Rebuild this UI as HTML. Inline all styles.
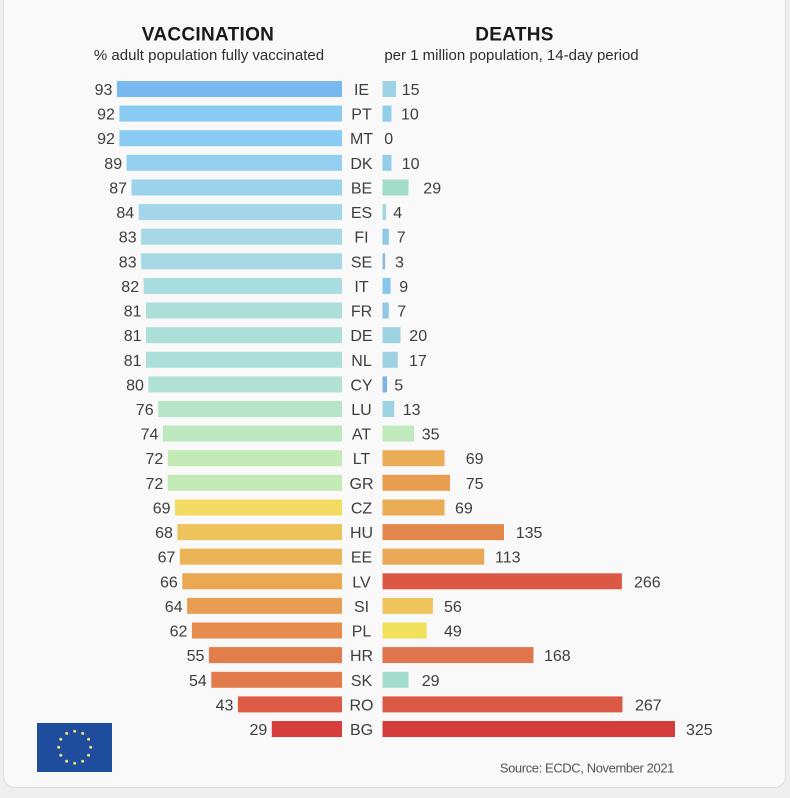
<!DOCTYPE html>
<html><head><meta charset="utf-8"><style>
html,body{margin:0;padding:0;background:#efefef;}
svg{display:block;}
text{font-family:"Liberation Sans",sans-serif;}
.n{font-size:16px;fill:#3e3e3e;}
.v{text-anchor:end;}
.c{text-anchor:middle;}
</style></head><body>
<svg width="790" height="798" viewBox="0 0 790 798" xmlns="http://www.w3.org/2000/svg">
<rect x="0" y="0" width="790" height="798" fill="#efefef"/>
<rect x="3.5" y="-12" width="782" height="799.5" rx="11" fill="#f9f9f9" stroke="#dddddd" stroke-width="1"/>
<text x="208" y="40.5" text-anchor="middle" font-size="19" font-weight="bold" letter-spacing="0.3" fill="#1a1a1a">VACCINATION</text>
<text x="209" y="60" text-anchor="middle" font-size="15" fill="#2e2e2e">% adult population fully vaccinated</text>
<text x="514.5" y="40.5" text-anchor="middle" font-size="19" font-weight="bold" letter-spacing="0.3" fill="#1a1a1a">DEATHS</text>
<text x="511.5" y="60" text-anchor="middle" font-size="15" fill="#2e2e2e">per 1 million population, 14-day period</text>

<g class="n">
<!-- IE -->
<rect x="116.9" y="81" width="225.1" height="16" fill="#79b9ef"/>
<text class="v" x="112.4" y="95">93</text>
<text class="c" x="361.5" y="95">IE</text>
<rect x="382.5" y="81" width="13.5" height="16" fill="#9dd3e5"/>
<text x="401.7" y="95">15</text>
<!-- PT -->
<rect x="119.4" y="105.6" width="222.6" height="16" fill="#8acbf4"/>
<text class="v" x="114.9" y="119.6">92</text>
<text class="c" x="361.5" y="119.6">PT</text>
<rect x="382.5" y="105.6" width="9" height="16" fill="#92cdea"/>
<text x="401" y="119.6">10</text>
<!-- MT -->
<rect x="119.4" y="130.2" width="222.6" height="16" fill="#8acbf4"/>
<text class="v" x="114.9" y="144.2">92</text>
<text class="c" x="361.5" y="144.2">MT</text>
<text x="384.3" y="144.2">0</text>
<!-- DK -->
<rect x="126.6" y="154.8" width="215.4" height="16" fill="#95cfef"/>
<text class="v" x="122.1" y="168.8">89</text>
<text class="c" x="361.5" y="168.8">DK</text>
<rect x="382.5" y="154.8" width="9" height="16" fill="#92cdea"/>
<text x="401.7" y="168.8">10</text>
<!-- BE -->
<rect x="131.5" y="179.5" width="210.5" height="16" fill="#9bd2ec"/>
<text class="v" x="127" y="193.5">87</text>
<text class="c" x="361.5" y="193.5">BE</text>
<rect x="382.5" y="179.5" width="26" height="16" fill="#a4dcca"/>
<text x="423.3" y="193.5">29</text>
<!-- ES -->
<rect x="138.7" y="204.1" width="203.3" height="16" fill="#a2d6e8"/>
<text class="v" x="134.2" y="218.1">84</text>
<text class="c" x="361.5" y="218.1">ES</text>
<rect x="382.5" y="204.1" width="3.6" height="16" fill="#a5d6e4"/>
<text x="393.3" y="218.1">4</text>
<!-- FI -->
<rect x="141.1" y="228.7" width="200.9" height="16" fill="#a6d9e5"/>
<text class="v" x="136.6" y="242.7">83</text>
<text class="c" x="361.5" y="242.7">FI</text>
<rect x="382.5" y="228.7" width="6.3" height="16" fill="#90c8e8"/>
<text x="396.7" y="242.7">7</text>
<!-- SE -->
<rect x="141.1" y="253.3" width="200.9" height="16" fill="#a6d9e5"/>
<text class="v" x="136.6" y="267.3">83</text>
<text class="c" x="361.5" y="267.3">SE</text>
<rect x="382.5" y="253.3" width="2.7" height="16" fill="#8fbada"/>
<text x="395" y="267.3">3</text>
<!-- IT -->
<rect x="143.6" y="277.9" width="198.4" height="16" fill="#a9dce0"/>
<text class="v" x="139.1" y="291.9">82</text>
<text class="c" x="361.5" y="291.9">IT</text>
<rect x="382.5" y="277.9" width="8.1" height="16" fill="#85c6ec"/>
<text x="399.3" y="291.9">9</text>
<!-- FR -->
<rect x="146" y="302.5" width="196" height="16" fill="#acdfda"/>
<text class="v" x="141.5" y="316.5">81</text>
<text class="c" x="361.5" y="316.5">FR</text>
<rect x="382.5" y="302.5" width="6.3" height="16" fill="#90c8e8"/>
<text x="397.3" y="316.5">7</text>
<!-- DE -->
<rect x="146" y="327.2" width="196" height="16" fill="#acdfda"/>
<text class="v" x="141.5" y="341.2">81</text>
<text class="c" x="361.5" y="341.2">DE</text>
<rect x="382.5" y="327.2" width="18" height="16" fill="#9dd3e2"/>
<text x="409.3" y="341.2">20</text>
<!-- NL -->
<rect x="146" y="351.8" width="196" height="16" fill="#acdfda"/>
<text class="v" x="141.5" y="365.8">81</text>
<text class="c" x="361.5" y="365.8">NL</text>
<rect x="382.5" y="351.8" width="15.3" height="16" fill="#9dd3e2"/>
<text x="409" y="365.8">17</text>
<!-- CY -->
<rect x="148.4" y="376.4" width="193.6" height="16" fill="#b0e1d4"/>
<text class="v" x="143.9" y="390.4">80</text>
<text class="c" x="361.5" y="390.4">CY</text>
<rect x="382.5" y="376.4" width="4.5" height="16" fill="#7ab5e6"/>
<text x="394.3" y="390.4">5</text>
<!-- LU -->
<rect x="158.1" y="401" width="183.9" height="16" fill="#b7e5c9"/>
<text class="v" x="153.6" y="415">76</text>
<text class="c" x="361.5" y="415">LU</text>
<rect x="382.5" y="401" width="11.7" height="16" fill="#9dd3e2"/>
<text x="402.7" y="415">13</text>
<!-- AT -->
<rect x="162.9" y="425.6" width="179.1" height="16" fill="#bde8bf"/>
<text class="v" x="158.4" y="439.6">74</text>
<text class="c" x="361.5" y="439.6">AT</text>
<rect x="382.5" y="425.6" width="31.5" height="16" fill="#c0eabb"/>
<text x="421.7" y="439.6">35</text>
<!-- LT -->
<rect x="167.8" y="450.2" width="174.2" height="16" fill="#c4ebb6"/>
<text class="v" x="163.3" y="464.2">72</text>
<text class="c" x="361.5" y="464.2">LT</text>
<rect x="382.5" y="450.2" width="62" height="16" fill="#eaad55"/>
<text x="465.7" y="464.2">69</text>
<!-- GR -->
<rect x="167.8" y="474.8" width="174.2" height="16" fill="#c4ebb6"/>
<text class="v" x="163.3" y="488.8">72</text>
<text class="c" x="361.5" y="488.8">GR</text>
<rect x="382.5" y="474.8" width="67.5" height="16" fill="#e89d51"/>
<text x="465.7" y="488.8">75</text>
<!-- CZ -->
<rect x="175" y="499.5" width="167" height="16" fill="#f2dc62"/>
<text class="v" x="170.5" y="513.5">69</text>
<text class="c" x="361.5" y="513.5">CZ</text>
<rect x="382.5" y="499.5" width="62" height="16" fill="#eaad55"/>
<text x="455" y="513.5">69</text>
<!-- HU -->
<rect x="177.4" y="524.1" width="164.6" height="16" fill="#efc35b"/>
<text class="v" x="172.9" y="538.1">68</text>
<text class="c" x="361.5" y="538.1">HU</text>
<rect x="382.5" y="524.1" width="121.5" height="16" fill="#e4874c"/>
<text x="515.7" y="538.1">135</text>
<!-- EE -->
<rect x="179.9" y="548.7" width="162.1" height="16" fill="#ebb457"/>
<text class="v" x="175.4" y="562.7">67</text>
<text class="c" x="361.5" y="562.7">EE</text>
<rect x="382.5" y="548.7" width="101.7" height="16" fill="#e9a856"/>
<text x="495" y="562.7">113</text>
<!-- LV -->
<rect x="182.3" y="573.3" width="159.7" height="16" fill="#eaa853"/>
<text class="v" x="177.8" y="587.3">66</text>
<text class="c" x="361.5" y="587.3">LV</text>
<rect x="382.5" y="573.3" width="239.4" height="16" fill="#db5944"/>
<text x="634" y="587.3">266</text>
<!-- SI -->
<rect x="187.1" y="597.9" width="154.9" height="16" fill="#e89e52"/>
<text class="v" x="182.6" y="611.9">64</text>
<text class="c" x="361.5" y="611.9">SI</text>
<rect x="382.5" y="597.9" width="50.4" height="16" fill="#efc45d"/>
<text x="444" y="611.9">56</text>
<!-- PL -->
<rect x="191.9" y="622.5" width="150.1" height="16" fill="#e68c4e"/>
<text class="v" x="187.4" y="636.5">62</text>
<text class="c" x="361.5" y="636.5">PL</text>
<rect x="382.5" y="622.5" width="44.1" height="16" fill="#f1e05b"/>
<text x="444" y="636.5">49</text>
<!-- HR -->
<rect x="208.9" y="647.1" width="133.1" height="16" fill="#e47d4c"/>
<text class="v" x="204.4" y="661.1">55</text>
<text class="c" x="361.5" y="661.1">HR</text>
<rect x="382.5" y="647.1" width="151" height="16" fill="#e0744a"/>
<text x="544" y="661.1">168</text>
<!-- SK -->
<rect x="211.3" y="671.8" width="130.7" height="16" fill="#e27a4b"/>
<text class="v" x="206.8" y="685.8">54</text>
<text class="c" x="361.5" y="685.8">SK</text>
<rect x="382.5" y="671.8" width="26" height="16" fill="#a4ddd0"/>
<text x="421.7" y="685.8">29</text>
<!-- RO -->
<rect x="237.9" y="696.4" width="104.1" height="16" fill="#dc5c46"/>
<text class="v" x="233.4" y="710.4">43</text>
<text class="c" x="361.5" y="710.4">RO</text>
<rect x="382.5" y="696.4" width="240" height="16" fill="#db5a45"/>
<text x="635" y="710.4">267</text>
<!-- BG -->
<rect x="271.8" y="721" width="70.2" height="16" fill="#d63d3d"/>
<text class="v" x="267.3" y="735">29</text>
<text class="c" x="361.5" y="735">BG</text>
<rect x="382.5" y="721" width="292.5" height="16" fill="#d43b3b"/>
<text x="686" y="735">325</text>
</g>

<!-- EU flag -->
<rect x="37" y="723" width="75" height="49" fill="#1f4d9e"/>
<g fill="#f3e27a">
<circle cx="74.7" cy="731.3" r="1.5"/>
<circle cx="82.7" cy="733.4" r="1.5"/>
<circle cx="88.6" cy="739.3" r="1.5"/>
<circle cx="90.7" cy="747.3" r="1.5"/>
<circle cx="88.6" cy="755.3" r="1.5"/>
<circle cx="82.7" cy="761.2" r="1.5"/>
<circle cx="74.7" cy="763.3" r="1.5"/>
<circle cx="66.7" cy="761.2" r="1.5"/>
<circle cx="60.8" cy="755.3" r="1.5"/>
<circle cx="58.7" cy="747.3" r="1.5"/>
<circle cx="60.8" cy="739.3" r="1.5"/>
<circle cx="66.7" cy="733.4" r="1.5"/>
</g>

<text x="674" y="772.5" text-anchor="end" font-size="13" letter-spacing="-0.4" fill="#555555">Source: ECDC, November 2021</text>
</svg>
</body></html>
